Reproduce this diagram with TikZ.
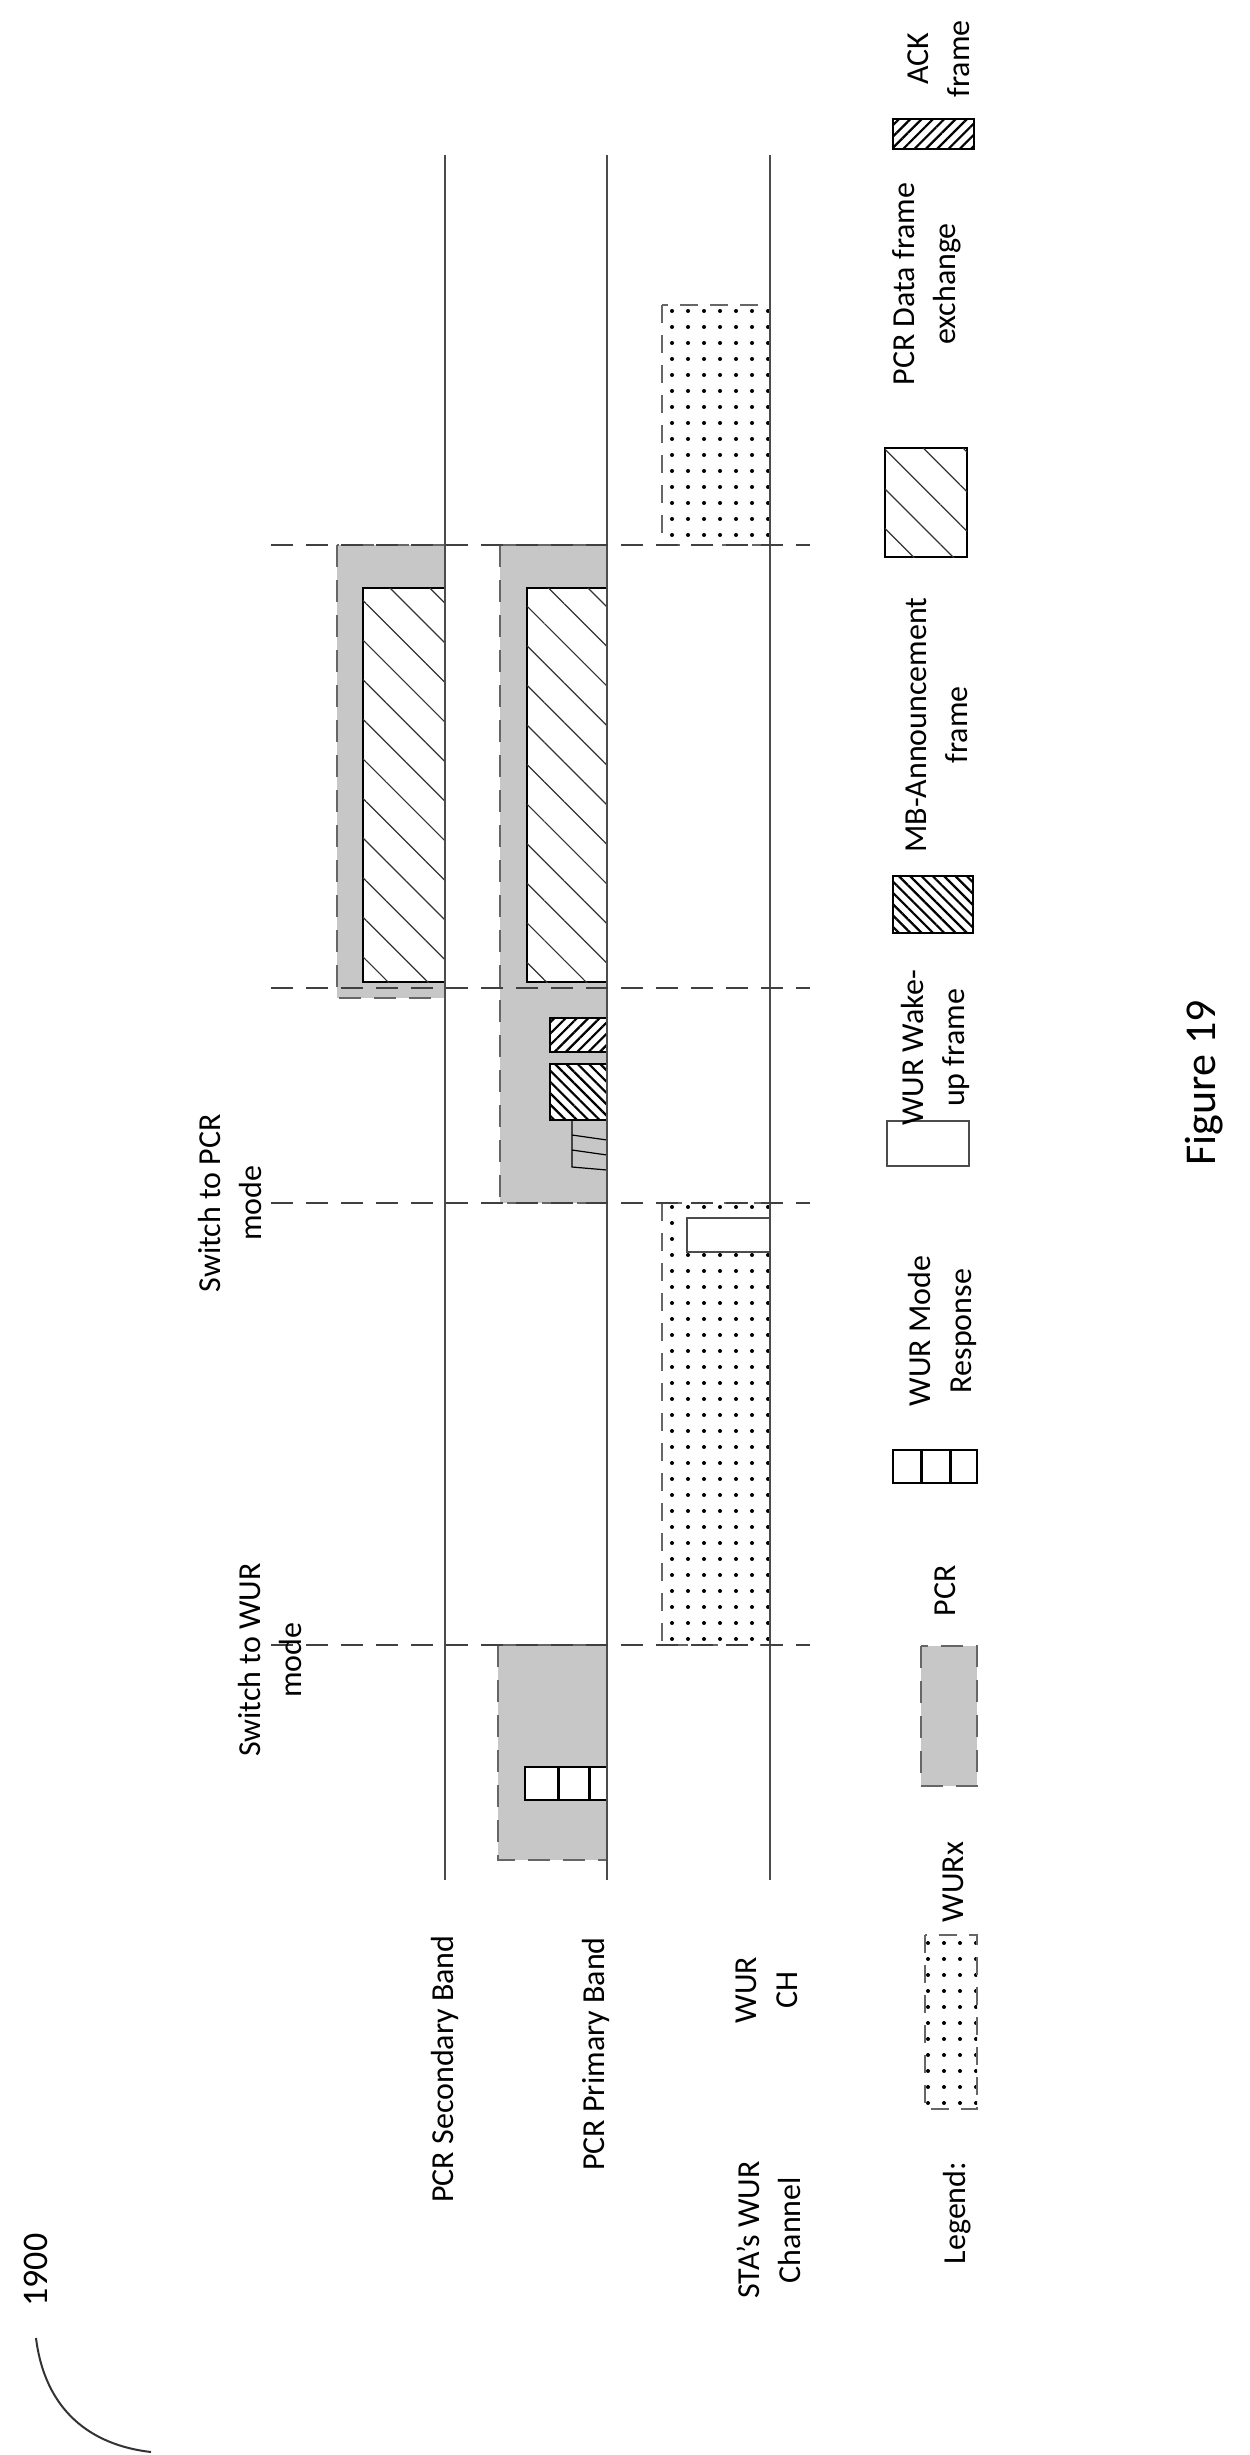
\documentclass[tikz,border=0pt]{standalone}
\usepackage{fontspec}
\setmainfont{Carlito}
\usetikzlibrary{patterns.meta}
\tikzset{
  band/.style={line width=1.3pt, black!70},
  tdash/.style={line width=1.3pt, black!75, dash pattern=on 22pt off 13pt},
  pcr/.style={fill=black!22, draw=black!60, line width=1.2pt, dash pattern=on 22pt off 13pt},
  wurx/.style={draw=black!60, line width=1.2pt, dash pattern=on 18pt off 12pt,
    pattern={Dots[distance=16pt, radius=2pt]}, pattern color=black},
  data/.style={draw=black, line width=1.2pt, fill=white, postaction={pattern={Lines[angle=-45, distance=28pt, line width=1.2pt]}, pattern color=black!80}},
  mb/.style={draw=black, line width=1.2pt, fill=white, postaction={pattern={Lines[angle=-45, distance=8pt, line width=2.2pt]}, pattern color=black}},
  ack/.style={draw=black, line width=1.2pt, fill=white, postaction={pattern={Lines[angle=45, distance=8pt, line width=2.2pt]}, pattern color=black}},
  wake/.style={draw=black!70, line width=1.2pt, fill=white},
  lbl/.style={rotate=90, align=center, font=\fontsize{32}{41}\selectfont},
}
\begin{document}
\begin{tikzpicture}[x=1pt, y=-1pt]
\useasboundingbox (0,0) rectangle (1250,2455);
% gray PCR blocks
\draw[pcr] (337,545) rectangle (445,998);
\draw[pcr] (500,545) rectangle (607,1203);
\draw[pcr] (498,1645) rectangle (607,1860);
% WURx blocks
\draw[wurx] (662,305) rectangle (770,545);
\draw[wurx] (662,1203) rectangle (770,1645);
% frames
\draw[data] (363,588) rectangle (445,982);
\draw[data] (527,588) rectangle (607,982);
\draw[ack] (550,1018) rectangle (607,1052);
\draw[mb] (550,1064) rectangle (607,1120);
\draw[line width=1.2pt] (572,1120) -- (572,1167) -- (607,1170);
\draw[line width=1.2pt] (572,1135) -- (607,1140) (572,1150) -- (607,1155);
\draw[wake] (687,1218) rectangle (770,1252);
\draw[line width=1.2pt, fill=white] (525,1767) rectangle (607,1800);
\draw[line width=3pt] (558,1767) -- (558,1800) (589,1767) -- (589,1800);
% band lines
\coordinate (s0) at (445,155); \coordinate (s1) at (445,1880);
\coordinate (p0) at (607,155); \coordinate (p1) at (607,1880);
\coordinate (w0) at (770,155); \coordinate (w1) at (770,1880);
\draw[band] (s0) -- (s1); \draw[band] (p0) -- (p1); \draw[band] (w0) -- (w1);
% time markers
\foreach \y/\n in {545/a,988/b,1203/c,1645/d}{
  \coordinate (t\n0) at (271,\y); \coordinate (t\n1) at (810,\y);
  \draw[tdash] (t\n0) -- (t\n1);}
% labels
\node[lbl] (swpcr) at (230,1203) {Switch to PCR\\mode};
\node[lbl] (swwur) at (270,1660) {Switch to WUR\\mode};
\node[lbl] (lsec) at (445,2069) {PCR Secondary Band};
\node[lbl] (lpri) at (596,2054) {PCR Primary Band};
\node[lbl] (lwch) at (767,1990) {WUR\\CH};
\node[lbl] (lsta) at (769,2230) {STA’s WUR\\Channel};
\node[lbl] (lleg) at (957,2213) {Legend:};
\node[rotate=90, font=\fontsize{36}{40}\selectfont] (fignum) at (36,2270) {1900};
\draw[line width=2pt, black!80] (36,2338) .. controls (45,2410) and (90,2445) .. (151,2452);
% legend
\draw[wurx] (925,1935) rectangle (977,2109);
\node[lbl] (lwurx) at (953,1882) {WURx};
\draw[pcr] (921,1646) rectangle (977,1786);
\node[lbl] (lpcr) at (945,1591) {PCR};
\draw[line width=1.2pt] (893,1450) rectangle (977,1483);
\draw[line width=3pt] (921,1450) -- (921,1483) (950,1450) -- (950,1483);
\node[lbl] (lresp) at (942,1331) {WUR Mode\\Response};
\draw[wake] (887,1121) rectangle (969,1166);
\node[lbl] (lwake) at (935,1048) {WUR Wake-\\up frame};
\draw[mb] (893,876) rectangle (973,933);
\node[lbl] (lmb) at (937,725) {MB-Announcement\\frame};
\draw[data] (885,448) rectangle (967,557);
\node[lbl] (ldata) at (927,284) {PCR Data frame\\exchange};
\draw[ack] (893,119) rectangle (974,149);
\node[lbl] (lack) at (939,59) {ACK\\frame};
\node[rotate=90, font=\fontsize{44}{50}\selectfont] (fig) at (1204,1083) {Figure 19};
\end{tikzpicture}
\end{document}
